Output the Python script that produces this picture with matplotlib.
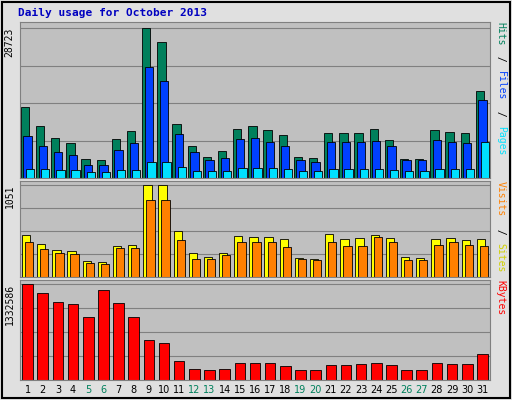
import matplotlib
matplotlib.use("Agg")
import matplotlib.pyplot as plt
import numpy as np

days = list(range(1, 32))
weekend = [5, 6, 12, 13, 19, 20, 26, 27]

hits = [13680, 9965, 7620, 6640, 3710, 3520, 7425, 8990, 28723, 25990, 10355, 6060, 4100, 5080,
        9380, 9965, 9185, 8205, 4100, 3910, 8600, 8600, 8600, 9380, 7230, 3710, 3710, 9185, 8795, 8600, 16610]
files = [8010, 6060, 4885, 4495, 2540, 2540, 5275, 6645, 21300, 18560, 8400, 4885, 3520, 3910,
         7425, 7620, 6840, 6060, 3520, 3125, 6840, 6840, 6840, 7035, 6060, 3520, 3520, 7230, 6840, 6645, 14850]
pages = [1760, 1760, 1560, 1560, 1170, 1170, 1560, 1560, 3125, 3125, 2150, 1370, 1370, 1370,
         1960, 1960, 1960, 1760, 1370, 1370, 1760, 1760, 1760, 1760, 1560, 1370, 1370, 1760, 1760, 1760, 6840]
sites = [474, 381, 312, 300, 185, 173, 358, 370, 1051, 1051, 520, 277, 231, 277,
         462, 450, 450, 427, 219, 208, 485, 427, 439, 474, 439, 231, 219, 427, 439, 416, 427]
visits = [393, 323, 277, 266, 162, 150, 335, 335, 878, 878, 416, 208, 208, 254,
          393, 393, 393, 346, 208, 196, 393, 358, 358, 450, 393, 196, 196, 370, 393, 370, 358]
kbytes = [1332586, 1205000, 1077000, 1049000, 879000, 1247000, 1063000, 879000, 553000, 510000,
          269000, 156000, 142000, 156000, 241000, 241000, 241000, 198000, 142000, 142000,
          213000, 213000, 227000, 241000, 213000, 142000, 142000, 241000, 227000, 227000, 354000]

BG = "#c0c0c0"
fig = plt.figure(figsize=(5.12, 4.0), dpi=100, facecolor="#e0e0e0")
fig.patches.append(plt.Rectangle((0.004, 0.005), 0.992, 0.99, transform=fig.transFigure,
                                 fill=False, ec="black", lw=1.5))
fig.text(18 / 512, 1 - 16 / 400, "Daily usage for October 2013", color="#0000c0",
         family="DejaVu Sans Mono", weight="bold", fontsize=8)

L, W = 20 / 512, 470 / 512
def make_ax(top, bottom):
    ax = fig.add_axes([L, 1 - bottom / 400, W, (bottom - top) / 400], facecolor=BG)
    ax.set_xlim(0.5, 31.5)
    ax.set_xticks([])
    ax.set_yticks([])
    for s in ax.spines.values():
        s.set_color("#808080")
    return ax

x = np.array(days)
w = 0.55
ec = dict(edgecolor="black", linewidth=0.6)

ax1 = make_ax(22, 178)
m1 = max(hits)
ax1.set_ylim(0, m1 * 1.04)
for f in (0.25, 0.5, 0.75, 1.0):
    ax1.axhline(m1 * f, color="#808080", lw=0.8, zorder=0)
ax1.bar(x - 0.17, hits, w, color="#00805c", **ec)
ax1.bar(x, files, w, color="#0040ff", **ec)
ax1.bar(x + 0.17, pages, w, color="#00e0ff", **ec)

ax2 = make_ax(181, 277)
m2 = max(sites)
ax2.set_ylim(0, m2 * 1.04)
for f in (0.25, 0.5, 0.75, 1.0):
    ax2.axhline(m2 * f, color="#808080", lw=0.8, zorder=0)
ax2.bar(x - 0.1, sites, w, color="#ffff00", **ec)
ax2.bar(x + 0.1, visits, w, color="#ff8000", **ec)

ax3 = make_ax(280, 380)
m3 = max(kbytes)
ax3.set_ylim(0, m3 * 1.04)
for f in (0.25, 0.5, 0.75, 1.0):
    ax3.axhline(m3 * f, color="#808080", lw=0.8, zorder=0)
ax3.bar(x, kbytes, 0.7, color="#ff0000", **ec)

for d in days:
    ax3.text(d, -0.05, str(d), transform=ax3.get_xaxis_transform(), ha="center", va="top",
             fontsize=7, color="#00805c" if d in weekend else "black")

for ax, m in ((ax1, m1), (ax2, m2), (ax3, m3)):
    ax.text(-0.012, m / ax.get_ylim()[1], str(m), transform=ax.transAxes, rotation=90,
            ha="right", va="top", fontsize=7, family="DejaVu Sans Mono")

def side(ax, parts):
    y = 1.0
    for txt, col in parts:
        t = ax.text(1.012, y, txt, transform=ax.transAxes, rotation=-90, ha="left", va="top",
                    fontsize=7, color=col, family="DejaVu Sans Mono")
        y -= len(txt) * 0.0445 * (156 / (ax.get_position().height * 400))

side(ax1, [("Hits", "#00805c"), (" / ", "black"), ("Files", "#0040ff"), (" / ", "black"), ("Pages", "#00e0ff")])
side(ax2, [("Visits", "#ff8000"), (" / ", "black"), ("Sites", "#d0d000")])
side(ax3, [("KBytes", "#ff0000")])

fig.savefig("out.png", dpi=100, facecolor=fig.get_facecolor())
